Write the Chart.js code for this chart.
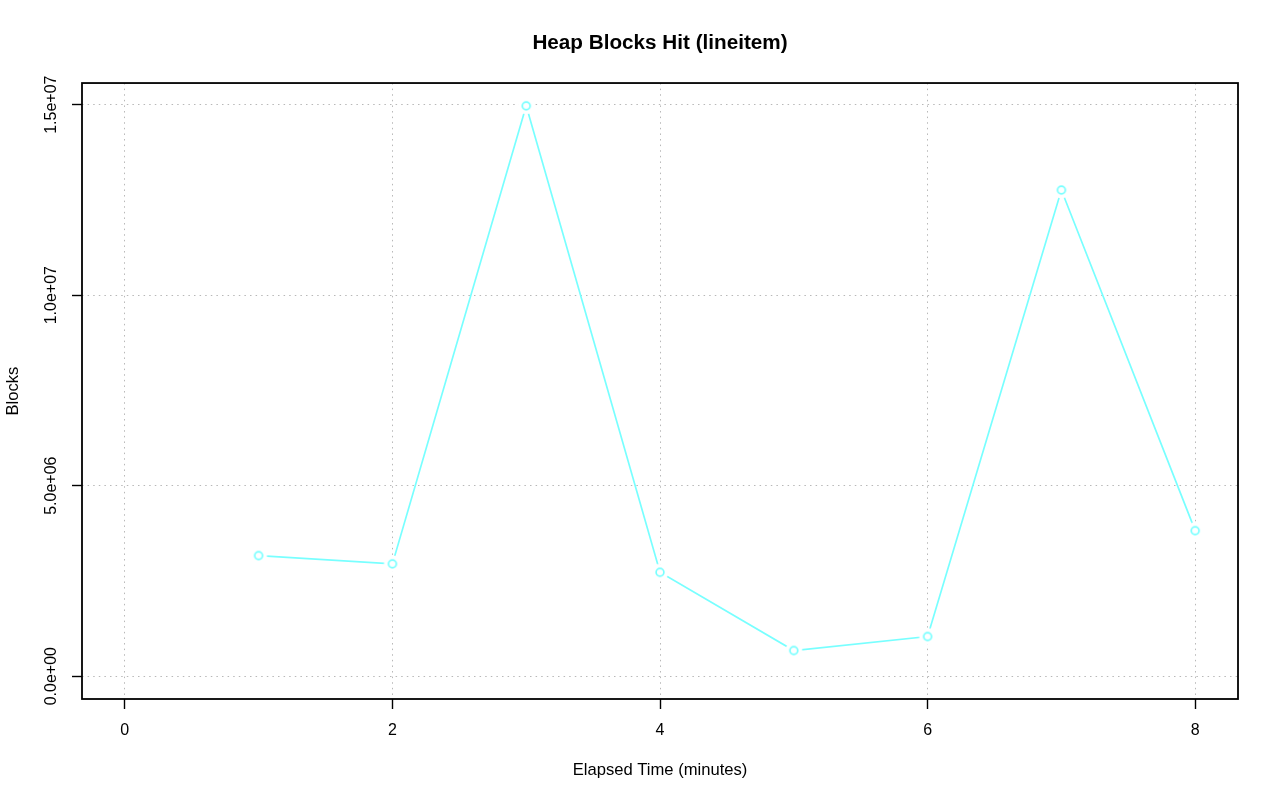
<!DOCTYPE html>
<html>
<head>
<meta charset="utf-8">
<script src="https://cdn.jsdelivr.net/npm/chart.js@4"></script>
<style>
  html, body { margin: 0; padding: 0; background: #ffffff; }
  #wrap { width: 1280px; height: 801px; position: relative; }
</style>
</head>
<body>
<div id="wrap"><canvas id="c" width="1280" height="801"></canvas></div>
<script>
// ---- data ----
const chartTitle = "Heap Blocks Hit (lineitem)";
const xTitle = "Elapsed Time (minutes)";
const yTitle = "Blocks";
const elapsedMinutes = [1, 2, 3, 4, 5, 6, 7, 8];
const blocksHit = [3165000, 2948000, 14970000, 2727000, 674000, 1041000, 12760000, 3820000];
const xTickValues = [0, 2, 4, 6, 8];
const yTickValues = [0, 5000000, 10000000, 15000000];
const yTickLabels = ["0.0e+00", "5.0e+06", "1.0e+07", "1.5e+07"];

// ---- styles ----
const FONT = "'Liberation Sans', Arial, Helvetica, sans-serif";
const LINE_COLOR = "rgb(120,255,255)";
const GRID_COLOR = "#b8b8b8";

// point marker with a small white halo (R type="b" gap)
function makeMarker() {
  const s = 20, cv = document.createElement('canvas');
  cv.width = s; cv.height = s;
  const g = cv.getContext('2d');
  g.fillStyle = '#ffffff';
  g.beginPath(); g.arc(s/2, s/2, 8.5, 0, Math.PI*2); g.fill();
  g.strokeStyle = LINE_COLOR; g.lineWidth = 1.7;
  g.beginPath(); g.arc(s/2, s/2, 3.9, 0, Math.PI*2); g.stroke();
  return cv;
}

const xMax = Math.max(...elapsedMinutes);
const yMax = Math.max(...blocksHit);

const framePlugin = {
  id: 'frame',
  afterDraw(chart) {
    const {ctx, chartArea: a} = chart;
    ctx.save();
    ctx.strokeStyle = '#000';
    ctx.lineWidth = 1.8;
    ctx.strokeRect(a.left, a.top, a.right - a.left, a.bottom - a.top);
    // rotated y tick labels (R style)
    const ys = chart.scales.y;
    ctx.fillStyle = '#000';
    ctx.font = "16px " + FONT;
    ctx.textAlign = 'center';
    ctx.textBaseline = 'middle';
    ys.ticks.forEach(t => {
      const idx = yTickValues.indexOf(t.value);
      if (idx < 0) return;
      const py = ys.getPixelForValue(t.value);
      ctx.save();
      ctx.translate(52, py);
      ctx.rotate(-Math.PI / 2);
      ctx.fillText(yTickLabels[idx], 0, 0);
      ctx.restore();
    });
    ctx.restore();
  }
};

new Chart(document.getElementById('c'), {
  type: 'line',
  data: {
    datasets: [{
      data: elapsedMinutes.map((x, i) => ({x: x, y: blocksHit[i]})),
      borderColor: LINE_COLOR,
      borderWidth: 1.7,
      pointStyle: makeMarker(),
      pointRadius: 4,
      tension: 0,
      fill: false
    }]
  },
  options: {
    responsive: false,
    animation: false,
    devicePixelRatio: 1,
    layout: { padding: { top: 0, right: 42, bottom: 0, left: 0 } },
    plugins: {
      legend: { display: false },
      tooltip: { enabled: false },
      title: {
        display: true,
        fullSize: false,
        text: chartTitle,
        color: '#000',
        font: { family: FONT, size: 20.7, weight: 'bold' },
        padding: { top: 30.6, bottom: 27.6 }
      }
    },
    scales: {
      x: {
        type: 'linear',
        z: 1,
        min: 0 - 0.04 * xMax,
        max: xMax * 1.04,
        afterFit(s) { s.height = 102; },
        afterBuildTicks(s) { s.ticks = xTickValues.map(v => ({value: v})); },
        ticks: {
          stepSize: 2,
          includeBounds: false,
          color: '#000',
          padding: 12,
          maxRotation: 0,
          font: { family: FONT, size: 16 },
          callback: v => String(v)
        },
        grid: {
          color: GRID_COLOR,
          lineWidth: 1,
          tickColor: '#000',
          tickWidth: 1.4,
          tickLength: 10,
          tickBorderDash: []
        },
        border: { display: false, dash: [1.5, 4.1] },
        title: {
          display: true,
          text: xTitle,
          color: '#000',
          font: { family: FONT, size: 16.6 },
          padding: { top: 0, bottom: 21 }
        }
      },
      y: {
        type: 'linear',
        z: 1,
        min: -0.04 * yMax,
        max: yMax * 1.04,
        afterFit(s) { s.width = 82; },
        afterBuildTicks(s) { s.ticks = yTickValues.map(v => ({value: v})); },
        ticks: {
          display: false,
          stepSize: 5000000,
          includeBounds: false
        },
        grid: {
          color: GRID_COLOR,
          lineWidth: 1,
          tickColor: '#000',
          tickWidth: 1.4,
          tickLength: 10,
          tickBorderDash: []
        },
        border: { display: false, dash: [1.5, 4.1] },
        title: {
          display: true,
          text: yTitle,
          color: '#000',
          font: { family: FONT, size: 16.6 },
          padding: { top: 3, bottom: 0 }
        }
      }
    }
  },
  plugins: [framePlugin]
});
</script>
</body>
</html>
